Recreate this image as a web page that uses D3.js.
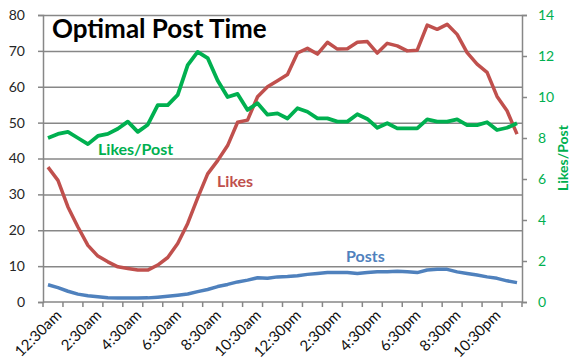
<!DOCTYPE html>
<html>
<head>
<meta charset="utf-8">
<script src="https://cdn.jsdelivr.net/npm/d3@7"></script>
<style>
  body { margin: 0; background: #fff; }
  svg { display: block; font-family: Lato, "Noto Sans", sans-serif; }
</style>
</head>
<body>
<script>
// half-hour slots through the day
var times = ['12:30am','1:00am','1:30am','2:00am','2:30am','3:00am','3:30am','4:00am',
  '4:30am','5:00am','5:30am','6:00am','6:30am','7:00am','7:30am','8:00am',
  '8:30am','9:00am','9:30am','10:00am','10:30am','11:00am','11:30am','12:00pm',
  '12:30pm','1:00pm','1:30pm','2:00pm','2:30pm','3:00pm','3:30pm','4:00pm',
  '4:30pm','5:00pm','5:30pm','6:00pm','6:30pm','7:00pm','7:30pm','8:00pm',
  '8:30pm','9:00pm','9:30pm','10:00pm','10:30pm','11:00pm','11:30pm','12:00am'];

var likes = [37.6,33.9,26.5,20.9,15.8,12.8,11.2,9.8,9.35,8.9,8.9,10.3,12.4,16.3,21.9,29,
  35.7,39.4,43.6,50.1,50.7,57.2,60,61.7,63.4,69.4,70.7,69.1,72.4,70.5,70.6,72.4,
  72.6,69.4,72.1,71.4,70,70.2,77.2,76,77.4,74.6,69.5,66.3,64,57.3,53.3,46.8];

var posts = [4.8,4.0,3.0,2.2,1.75,1.45,1.2,1.1,1.1,1.1,1.15,1.35,1.6,1.9,2.25,2.9,
  3.5,4.3,4.9,5.6,6.1,6.75,6.6,7.0,7.1,7.3,7.7,7.95,8.2,8.2,8.2,7.95,
  8.2,8.4,8.4,8.6,8.4,8.2,8.9,9.1,9.1,8.4,7.95,7.5,7.0,6.6,5.9,5.4];

var likesPerPost = [8.0,8.2,8.3,8.0,7.7,8.1,8.2,8.45,8.8,8.3,8.65,9.6,9.6,10.1,11.55,12.2,
  11.9,10.8,10.0,10.15,9.37,9.7,9.14,9.2,8.95,9.45,9.28,8.96,8.96,8.8,8.8,9.16,
  8.93,8.5,8.72,8.47,8.47,8.47,8.91,8.8,8.8,8.91,8.63,8.63,8.77,8.39,8.5,8.72];

var leftTicks = [0,10,20,30,40,50,60,70,80];
var rightTicks = [0,2,4,6,8,10,12,14];

var W = 570, H = 362;
var pL = 43, pR = 522, pT = 15, pB = 302;
var grey = '#878787';

var svg = d3.select('body').append('svg').attr('width', W).attr('height', H);

var x = d3.scaleBand().domain(times).range([pL, pR]).padding(0);
var yL = d3.scaleLinear().domain([0, 80]).range([pB, pT]);
var yR = d3.scaleLinear().domain([0, 14]).range([pB, pT]);
var cx = function(i) { return x(times[i]) + x.bandwidth() / 2; };

// gridlines
var grid = svg.append('g').attr('transform', 'translate(' + pL + ',0)')
  .call(d3.axisLeft(yL).tickValues(leftTicks.slice(1)).tickSize(-(pR - pL)).tickFormat(''));
grid.select('.domain').remove();
grid.selectAll('line').attr('stroke', grey).attr('stroke-width', 1.5);

// left axis
var ga = svg.append('g').attr('transform', 'translate(' + pL + ',0)')
  .call(d3.axisLeft(yL).tickValues(leftTicks).tickSize(5).tickPadding(13));
ga.select('.domain').attr('stroke', grey).attr('stroke-width', 1.5);
ga.selectAll('line').attr('stroke', grey).attr('stroke-width', 1.5);
ga.selectAll('text').attr('fill', '#262626').style('font-size', '14px').style('font-family', 'Lato');

// right axis
var gr = svg.append('g').attr('transform', 'translate(' + pR + ',0)')
  .call(d3.axisRight(yR).tickValues(rightTicks).tickSize(5).tickPadding(11));
gr.select('.domain').attr('stroke', grey).attr('stroke-width', 1.5);
gr.selectAll('line').attr('stroke', grey).attr('stroke-width', 1.5);
gr.selectAll('text').attr('fill', '#00B050').style('font-size', '14px').style('font-family', 'Lato');

// bottom axis: ticks on every 2nd boundary, labels every 4th slot
var gb = svg.append('g').attr('transform', 'translate(0,' + pB + ')');
gb.append('line').attr('x1', pL).attr('x2', pR).attr('stroke', grey).attr('stroke-width', 1.5);
var bounds = times.filter(function(d, i) { return i % 2 == 0; });
gb.selectAll('.tk').data(bounds).enter().append('line').attr('class', 'tk')
  .attr('x1', function(d) { return x(d); }).attr('x2', function(d) { return x(d); })
  .attr('y1', 0).attr('y2', 5).attr('stroke', grey).attr('stroke-width', 1.5);
gb.append('line').attr('x1', pR).attr('x2', pR).attr('y1', 0).attr('y2', 5)
  .attr('stroke', grey).attr('stroke-width', 1.5);

var lab = svg.append('g').attr('transform', 'translate(0,' + pB + ')')
  .call(d3.axisBottom(x).tickValues(times.filter(function(d, i) { return i % 4 == 0; })).tickSize(0));
lab.select('.domain').remove();
lab.selectAll('text')
  .attr('fill', '#111').style('font-size', '15px').style('font-family', 'Lato')
  .attr('text-anchor', 'end')
  .attr('transform', 'translate(8,8) rotate(-45)')
  .attr('dy', '0.6em').attr('y', 0);

// lines
var mk = function(vals, y) {
  return d3.line().x(function(d, i) { return cx(i); }).y(function(d) { return y(d); })(vals);
};
svg.append('path').attr('d', mk(posts, yL)).attr('fill', 'none')
  .attr('stroke', '#4F81BD').attr('stroke-width', 3.5).attr('stroke-linejoin', 'round');
svg.append('path').attr('d', mk(likes, yL)).attr('fill', 'none')
  .attr('stroke', '#C0504D').attr('stroke-width', 3.5).attr('stroke-linejoin', 'round');
svg.append('path').attr('d', mk(likesPerPost, yR)).attr('fill', 'none')
  .attr('stroke', '#00B050').attr('stroke-width', 3.8).attr('stroke-linejoin', 'round');

// title and series labels
svg.append('text').attr('x', 52).attr('y', 38).text('Optimal Post Time')
  .style('font-size', '26px').style('font-weight', 'bold').attr('fill', '#000');
svg.append('text').attr('x', 98).attr('y', 155).text('Likes/Post')
  .style('font-size', '16px').style('font-weight', 'bold').attr('fill', '#00B050');
svg.append('text').attr('x', 217).attr('y', 187).text('Likes')
  .style('font-size', '16px').style('font-weight', 'bold').attr('fill', '#C0504D');
svg.append('text').attr('x', 346).attr('y', 262).text('Posts')
  .style('font-size', '16px').style('font-weight', 'bold').attr('fill', '#4F81BD');

svg.append('text').attr('transform', 'translate(568,158) rotate(-90)')
  .attr('text-anchor', 'middle').text('Likes/Post')
  .style('font-size', '14px').style('font-weight', 'bold').attr('fill', '#00B050');
</script>
</body>
</html>
